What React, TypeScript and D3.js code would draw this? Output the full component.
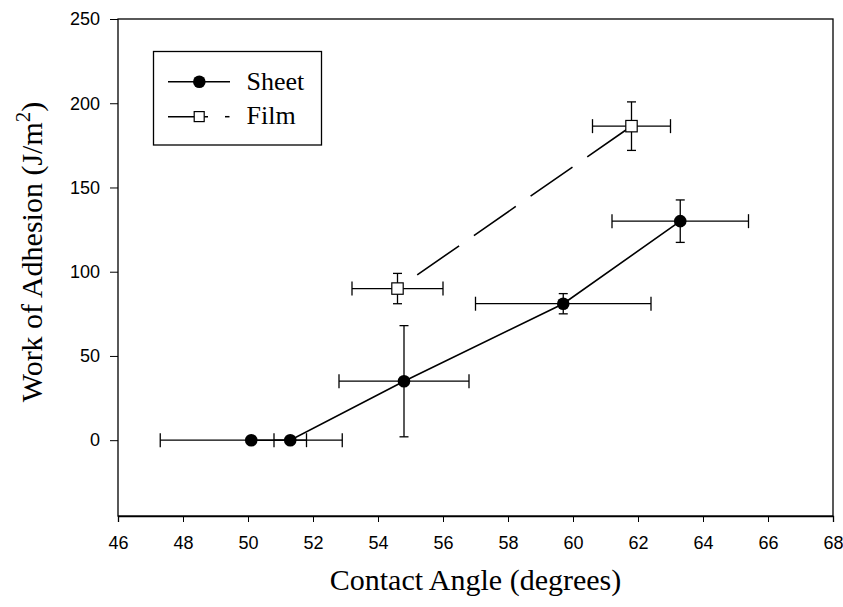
import React, { useRef, useEffect } from 'react';
import * as d3 from 'd3';

// contact angle (deg), work of adhesion (J/m2) with errors
const sheetX = [50.1, 51.3, 54.8, 59.7, 63.3];
const sheetY = [0, 0, 35, 81, 130];
const sheetXErr = [2.8, 0.5, 2.0, 2.7, 2.1];
const sheetYErr = [0, 0, 33, 6, 12.6];

const filmX = [54.6, 61.8];
const filmY = [90, 186.4];
const filmXErr = [1.4, 1.2];
const filmYErr = [9, 14.4];

const xTicks = [46, 48, 50, 52, 54, 56, 58, 60, 62, 64, 66, 68];
const yTicks = [0, 50, 100, 150, 200, 250];

const App = () => {
  const svgRef = useRef<SVGSVGElement>(null);

  useEffect(() => {
    const width = 843;
    const height = 607;
    const margin = { top: 19, right: 10, bottom: 91, left: 118 };
    const serif = '"Liberation Serif", "Times New Roman", serif';
    const sans = '"Liberation Sans", Arial, sans-serif';

    const svg = d3.select(svgRef.current);
    svg.selectAll('*').remove();
    svg.attr('width', width).attr('height', height);

    const x = d3.scaleLinear().domain([46, 68]).range([margin.left, width - margin.right]);
    const y = d3.scaleLinear().domain([-45, 250]).range([height - margin.bottom, margin.top]);

    // frame
    svg.append('rect')
      .attr('x', x(46)).attr('y', y(250))
      .attr('width', x(68) - x(46)).attr('height', y(-45) - y(250))
      .attr('fill', 'none').attr('stroke', '#000').attr('stroke-width', 1.3);

    // x axis
    const xAxis = svg.append('g')
      .attr('transform', `translate(0,${y(-45)})`)
      .call(d3.axisBottom(x).tickValues(xTicks).tickSize(6).tickPadding(14).tickFormat(d3.format('d')));
    xAxis.select('.domain').attr('stroke-width', 1.3);
    xAxis.selectAll('text').attr('font-family', sans).attr('font-size', 18).attr('fill', '#000');

    // y axis
    const yAxis = svg.append('g')
      .attr('transform', `translate(${x(46)},0)`)
      .call(d3.axisLeft(y).tickValues(yTicks).tickSize(8).tickPadding(10).tickFormat(d3.format('d')));
    yAxis.select('.domain').remove();
    yAxis.selectAll('text').attr('font-family', sans).attr('font-size', 18).attr('fill', '#000');

    // axis titles
    svg.append('text')
      .attr('x', (x(46) + x(68)) / 2).attr('y', 590)
      .attr('text-anchor', 'middle')
      .attr('font-family', serif).attr('font-size', 30)
      .text('Contact Angle (degrees)');

    const yt = svg.append('text')
      .attr('transform', 'translate(42,252) rotate(-90)')
      .attr('text-anchor', 'middle')
      .attr('font-family', serif).attr('font-size', 30);
    yt.append('tspan').text('Work of Adhesion (J/m');
    yt.append('tspan').attr('dy', -12).attr('font-size', 21).text('2');
    yt.append('tspan').attr('dy', 12).text(')');

    // lines
    const sheetPts = sheetX.map((d, i) => [d, sheetY[i]] as [number, number]);
    const filmPts = filmX.map((d, i) => [d, filmY[i]] as [number, number]);
    const line = d3.line<[number, number]>().x(d => x(d[0])).y(d => y(d[1]));

    svg.append('path').attr('d', line(sheetPts))
      .attr('fill', 'none').attr('stroke', '#000').attr('stroke-width', 1.6);
    svg.append('path').attr('d', line(filmPts))
      .attr('fill', 'none').attr('stroke', '#000').attr('stroke-width', 1.6)
      .attr('stroke-dasharray', '51,18').attr('stroke-dashoffset', 45);

    // error bars
    const errBars = (xs: number[], ys: number[], xe: number[], ye: number[]) => {
      const g = svg.append('g').attr('stroke', '#000').attr('stroke-width', 1.3);
      xs.forEach((xv, i) => {
        const yv = ys[i];
        if (xe[i] > 0) {
          g.append('line').attr('x1', x(xv - xe[i])).attr('x2', x(xv + xe[i])).attr('y1', y(yv)).attr('y2', y(yv));
          [xv - xe[i], xv + xe[i]].forEach(c => {
            g.append('line').attr('x1', x(c)).attr('x2', x(c)).attr('y1', y(yv) - 7).attr('y2', y(yv) + 7);
          });
        }
        if (ye[i] > 0) {
          g.append('line').attr('x1', x(xv)).attr('x2', x(xv)).attr('y1', y(yv - ye[i])).attr('y2', y(yv + ye[i]));
          [yv - ye[i], yv + ye[i]].forEach(c => {
            g.append('line').attr('x1', x(xv) - 4.5).attr('x2', x(xv) + 4.5).attr('y1', y(c)).attr('y2', y(c));
          });
        }
      });
    };
    errBars(sheetX, sheetY, sheetXErr, sheetYErr);
    errBars(filmX, filmY, filmXErr, filmYErr);

    // markers
    svg.selectAll('.sheet-pt')
      .data(sheetPts)
      .enter().append('circle')
      .attr('class', 'sheet-pt')
      .attr('cx', d => x(d[0])).attr('cy', d => y(d[1]))
      .attr('r', 6.3).attr('fill', '#000');

    svg.selectAll('.film-pt')
      .data(filmPts)
      .enter().append('rect')
      .attr('class', 'film-pt')
      .attr('x', d => x(d[0]) - 5.7).attr('y', d => y(d[1]) - 5.7)
      .attr('width', 11.4).attr('height', 11.4)
      .attr('fill', '#fff').attr('stroke', '#000').attr('stroke-width', 1.2);

    // legend
    const legend = svg.append('g');
    legend.append('rect')
      .attr('x', 153.5).attr('y', 51.5).attr('width', 168).attr('height', 93.5)
      .attr('fill', '#fff').attr('stroke', '#000').attr('stroke-width', 1.3);
    legend.append('line').attr('x1', 168).attr('x2', 230).attr('y1', 81.7).attr('y2', 81.7)
      .attr('stroke', '#000').attr('stroke-width', 1.5);
    legend.append('circle').attr('cx', 199.3).attr('cy', 81.7).attr('r', 6.3).attr('fill', '#000');
    legend.append('line').attr('x1', 168).attr('x2', 208).attr('y1', 116.7).attr('y2', 116.7)
      .attr('stroke', '#000').attr('stroke-width', 1.5);
    legend.append('line').attr('x1', 225).attr('x2', 229.5).attr('y1', 116.7).attr('y2', 116.7)
      .attr('stroke', '#000').attr('stroke-width', 1.5);
    legend.append('rect').attr('x', 194.2).attr('y', 111.6).attr('width', 10).attr('height', 10)
      .attr('fill', '#fff').attr('stroke', '#000').attr('stroke-width', 1.2);
    legend.append('text').attr('x', 246.5).attr('y', 90)
      .attr('font-family', serif).attr('font-size', 26).text('Sheet');
    legend.append('text').attr('x', 246.5).attr('y', 124)
      .attr('font-family', serif).attr('font-size', 26).text('Film');
  }, []);

  return (
    <svg ref={svgRef} style={{ position: 'absolute', left: 0, top: 0, background: '#fff' }}></svg>
  );
};

export default App;
